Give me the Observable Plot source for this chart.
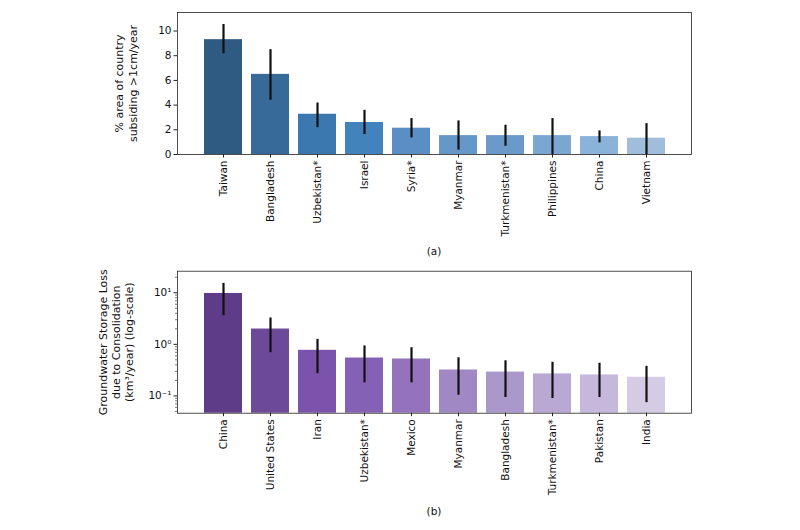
<!DOCTYPE html>
<html><head><meta charset="utf-8">
<script src="https://cdn.jsdelivr.net/npm/d3@7"></script>
<script src="https://cdn.jsdelivr.net/npm/@observablehq/plot@0.6"></script>
<style>
body{margin:0;background:#fff;font-family:"DejaVu Sans",sans-serif;}
#wrap{position:relative;width:800px;height:530px;overflow:hidden;background:#fff;}
.panel{position:absolute;left:0;}
.cap{position:absolute;left:0;width:868px;text-align:center;font-size:10.5px;color:#111;line-height:12px;}
</style></head>
<body>
<div id="wrap">
  <div id="pa" class="panel" style="top:0px"></div>
  <div class="cap" style="top:245px">(a)</div>
  <div id="pb" class="panel" style="top:260px"></div>
  <div class="cap" style="top:505px">(b)</div>
</div>
<script>
// Panel (a): % area of country subsiding > 1 cm/year
const subsCountries = ["Taiwan","Bangladesh","Uzbekistan*","Israel","Syria*","Myanmar","Turkmenistan*","Philippines","China","Vietnam"];
const subsValues = [9.3, 6.49, 3.26, 2.59, 2.13, 1.53, 1.53, 1.53, 1.45, 1.32];
const subsLow    = [8.16, 4.39, 2.18, 1.62, 1.34, 0.35, 0.67, 0.0, 0.94, 0.0];
const subsHigh   = [10.53, 8.49, 4.17, 3.58, 2.91, 2.72, 2.37, 2.91, 1.91, 2.5];
const subsTicks  = [0, 2, 4, 6, 8, 10];
const subsLabel  = "% area of country\nsubsiding >1cm/year";

// Panel (b): groundwater storage loss due to consolidation (km³/year)
const lossCountries = ["China","United States","Iran","Uzbekistan*","Mexico","Myanmar","Bangladesh","Turkmenistan*","Pakistan","India"];
const lossValues = [9.7, 1.98, 0.766, 0.543, 0.52, 0.318, 0.29, 0.267, 0.255, 0.23];
const lossLow    = [3.6, 0.69, 0.27, 0.179, 0.179, 0.103, 0.093, 0.089, 0.093, 0.074];
const lossHigh   = [15.2, 3.24, 1.25, 0.93, 0.86, 0.55, 0.48, 0.45, 0.43, 0.375];
const lossTicks  = [0.1, 1, 10];
const lossMinorTicks = [0.05,0.06,0.07,0.08,0.09,0.2,0.3,0.4,0.5,0.6,0.7,0.8,0.9,2,3,4,5,6,7,8,9,20];
const lossLabel  = "Groundwater Storage Loss\ndue to Consolidation\n(km\u00b3/year) (log-scale)";

// palettes (style)
const blues = ["#2f5a82","#376a98","#3b78b0","#4283bd","#5a8ec5","#6697c9","#6b99c9","#7aa6d2","#8bb2d9","#a0bddb"];
const purples = ["#5e3c88","#6d4999","#7b53ac","#8561b6","#9472bc","#a088c4","#ab98ca","#b8a8d3","#c5b8dc","#d5cbe5"];

const subsData = subsCountries.map((c, i) => ({country: c, value: subsValues[i], lo: subsLow[i], hi: subsHigh[i], color: blues[i]}));
const lossData = lossCountries.map((c, i) => ({country: c, value: lossValues[i], lo: lossLow[i], hi: lossHigh[i], color: purples[i]}));

const subsDomain = [0, 11.5];
const lossDomain = [0.0462, 26.2];

const supMap = {"-": "\u207b", "0": "\u2070", "1": "\u00b9", "2": "\u00b2", "3": "\u00b3"};
const sup = (n) => String(n).split("").map(ch => supMap[ch] || ch).join("");

const common = {
  width: 800, height: 240,
  marginLeft: 177, marginRight: 109,
  style: {fontFamily: "DejaVu Sans, sans-serif", fontSize: "10.5px", color: "#111", background: "white", overflow: "visible"},
  color: {type: "identity"}
};

const pa = Plot.plot({
  ...common,
  marginTop: 12, marginBottom: 86,
  x: {domain: subsCountries, paddingInner: 0.2, paddingOuter: 0.49, label: null},
  y: {domain: subsDomain, label: null},
  marks: [
    Plot.barY(subsData, {x: "country", y: "value", fill: "color"}),
    Plot.ruleX(subsData, {x: "country", y1: "lo", y2: "hi", stroke: "#111", strokeWidth: 2.2}),
    Plot.frame({stroke: "#222", strokeWidth: 0.8}),
    Plot.axisX({tickRotate: -90, tickSize: 3.5, tickPadding: 2.5, label: null, stroke: "#222"}),
    Plot.axisY(subsTicks, {tickSize: 3.5, tickPadding: 2.5, label: null, stroke: "#222"}),
    Plot.text([subsLabel], {text: d => d, frameAnchor: "left", textAnchor: "middle", dx: -52, rotate: -90, lineHeight: 1.25, fontSize: 11, fill: "#111"})
  ]
});
document.getElementById("pa").appendChild(pa);

const pb = Plot.plot({
  ...common,
  marginTop: 10.7, marginBottom: 87.3,
  x: {domain: lossCountries, paddingInner: 0.2, paddingOuter: 0.49, label: null},
  y: {type: "log", domain: lossDomain, label: null},
  marks: [
    Plot.barY(lossData, {x: "country", y1: lossDomain[0], y2: "value", fill: "color"}),
    Plot.ruleX(lossData, {x: "country", y1: "lo", y2: "hi", stroke: "#111", strokeWidth: 2.2}),
    Plot.frame({stroke: "#222", strokeWidth: 0.8}),
    Plot.axisX({tickRotate: -90, tickSize: 3.5, tickPadding: 2.5, label: null, stroke: "#222"}),
    Plot.axisY(lossTicks, {tickSize: 3.5, tickPadding: 2.5, label: null, stroke: "#222",
      tickFormat: d => "10" + sup(Math.round(Math.log10(d)))}),
    Plot.axisY(lossMinorTicks, {tickSize: 2, tickFormat: () => "", label: null, stroke: "#222", strokeWidth: 0.6}),
    Plot.text([lossLabel], {text: d => d, frameAnchor: "left", textAnchor: "middle", dx: -61.5, rotate: -90, lineHeight: 1.15, fontSize: 11, fill: "#111"})
  ]
});
document.getElementById("pb").appendChild(pb);
</script>
</body></html>
